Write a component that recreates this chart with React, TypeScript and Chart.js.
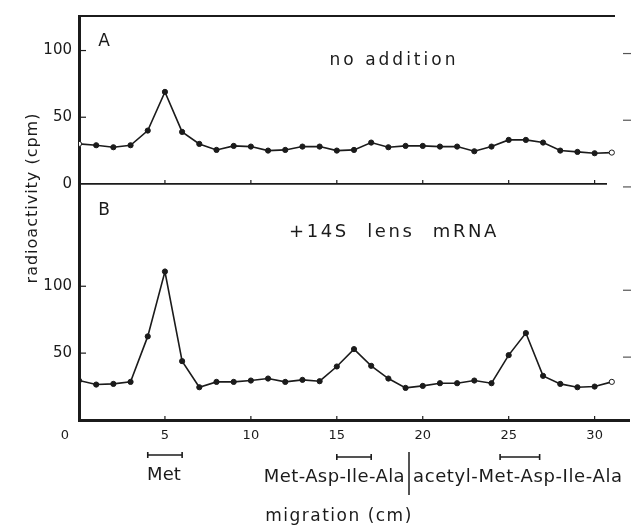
import React, { useEffect, useRef } from 'react';
import { Chart, registerables } from 'chart.js';

Chart.register(...registerables);

// ---- data ----
const migration = [0, 1, 2, 3, 4, 5, 6, 7, 8, 9, 10, 11, 12, 13, 14, 15, 16, 17, 18, 19, 20, 21, 22, 23, 24, 25, 26, 27, 28, 29, 30, 31];
const noAddition = [30, 29, 27.5, 29, 40, 69, 39, 30, 25.5, 28.5, 28, 25, 25.5, 28, 28, 25, 25.5, 31, 27.5, 28.5, 28.5, 28, 28, 24.5, 28, 33, 33, 31, 25, 24, 23, 23.5];
const lensMRNA = [29.5, 26.5, 27, 28.5, 62.5, 111, 44, 24.5, 28.5, 28.5, 29.5, 31, 28.5, 30, 29, 40, 53, 40.5, 31, 24, 25.5, 27.5, 27.5, 29.5, 27.5, 48.5, 65, 33, 27, 24.5, 25, 28.5];

const xTickValues = [0, 5, 10, 15, 20, 25, 30];
const yTicksA = [0, 50, 100];
const yTicksB = [50, 100];
const panelLetters = ['A', 'B'];
const panelTitles = ['no addition', '+14S lens mRNA'];
const markerNames = ['Met', 'Met-Asp-Ile-Ala', 'acetyl-Met-Asp-Ile-Ala'];
const markerRanges = [[4, 6], [15, 17], [24.5, 26.8]];
const markerSeparator = 19.2;
const yTitle = 'radioactivity (cpm)';
const xTitle = 'migration (cm)';

const INK = '#1b1b1b';
const FONT = '"DejaVu Sans", sans-serif';

function drawText(ctx: CanvasRenderingContext2D, text: string, x: number, y: number, size: number, align: CanvasTextAlign, spacing = 0, wordSpacing = 0, baseline: CanvasTextBaseline = 'middle') {
  ctx.font = `${size}px ${FONT}`;
  (ctx as any).letterSpacing = `${spacing}px`;
  (ctx as any).wordSpacing = `${wordSpacing}px`;
  ctx.textAlign = align;
  ctx.textBaseline = baseline;
  ctx.fillText(text, x, y);
  (ctx as any).letterSpacing = '0px';
  (ctx as any).wordSpacing = '0px';
}

function seg(ctx: CanvasRenderingContext2D, x1: number, y1: number, x2: number, y2: number) {
  ctx.beginPath();
  ctx.moveTo(x1, y1);
  ctx.lineTo(x2, y2);
  ctx.stroke();
}

const decorPlugin = {
  id: 'decor',
  afterDraw(chart: any) {
    const { ctx, chartArea, scales } = chart;
    const xs = scales.x;
    const yA = scales.yA;
    const yB = scales.yB;
    ctx.save();
    ctx.strokeStyle = INK;
    ctx.fillStyle = INK;

    // panel A frame lines
    ctx.lineWidth = 2;
    seg(ctx, chartArea.left, yA.top, chartArea.right - 14, yA.top);
    ctx.lineWidth = 1.8;
    seg(ctx, chartArea.left, yA.bottom, chartArea.right - 22, yA.bottom);

    // inward tick marks on x axes (both panels)
    ctx.lineWidth = 1.2;
    for (const v of xTickValues) {
      if (v === 0) continue;
      const px = xs.getPixelForValue(v);
      seg(ctx, px, yA.bottom, px, yA.bottom - 4);
      seg(ctx, px, yB.bottom, px, yB.bottom - 4);
    }
    // inward tick marks on left y axes and right edge
    for (const v of [50, 100]) {
      const pa = yA.getPixelForValue(v);
      const pb = yB.getPixelForValue(v);
      seg(ctx, chartArea.left, pa, chartArea.left + 7, pa);
      seg(ctx, chartArea.left, pb, chartArea.left + 7, pb);
    }
    ctx.strokeStyle = '#555';
    for (const v of yTicksA) {
      const p = yA.getPixelForValue(v) + 3;
      seg(ctx, chartArea.right - 6, p, chartArea.right + 2, p);
    }
    for (const v of yTicksB) {
      const p = yB.getPixelForValue(v) + 4;
      seg(ctx, chartArea.right - 6, p, chartArea.right + 2, p);
    }
    ctx.strokeStyle = INK;

    // x tick labels
    for (const v of xTickValues) {
      const px = xs.getPixelForValue(v) + (v === 0 ? -14 : 0);
      drawText(ctx, String(v), px, yB.bottom + 16, 13, 'center');
    }

    // panel letters and titles
    drawText(ctx, panelLetters[0], chartArea.left + 25, yA.top + 26, 17, 'center');
    drawText(ctx, panelLetters[1], chartArea.left + 25, yA.bottom + 27, 17, 'center');
    drawText(ctx, panelTitles[0], 394, yA.top + 45, 17, 'center', 3);
    drawText(ctx, panelTitles[1], 394, yA.bottom + 48, 18, 'center', 2.6, 10);

    // axis titles
    ctx.save();
    ctx.translate(33, 198);
    ctx.rotate(-Math.PI / 2);
    drawText(ctx, yTitle, 0, 0, 16, 'center', 1);
    ctx.restore();
    drawText(ctx, xTitle, 339, 521, 17, 'center', 1.5, 0, 'alphabetic');

    // marker brackets
    ctx.lineWidth = 1.6;
    markerRanges.forEach(([a, b], i) => {
      const x1 = xs.getPixelForValue(a);
      const x2 = xs.getPixelForValue(b);
      const y = yB.bottom + (i === 0 ? 35 : 37);
      seg(ctx, x1, y, x2, y);
      seg(ctx, x1, y - 3, x1, y + 3);
      seg(ctx, x2, y - 3, x2, y + 3);
    });
    const sep = xs.getPixelForValue(markerSeparator);
    ctx.lineWidth = 1.5;
    seg(ctx, sep, yB.bottom + 32, sep, yB.bottom + 75);
    drawText(ctx, markerNames[0], xs.getPixelForValue((markerRanges[0][0] + markerRanges[0][1]) / 2) - 1, yB.bottom + 60, 18, 'center', 0, 0, 'alphabetic');
    drawText(ctx, markerNames[1], sep - 4, yB.bottom + 62, 18, 'right', 0.4, 0, 'alphabetic');
    drawText(ctx, markerNames[2], sep + 4, yB.bottom + 62, 18, 'left', 0.6, 0, 'alphabetic');

    ctx.restore();
  },
};

const pointFill = (ctx: any) => {
  const last = migration.length - 1;
  if (ctx.datasetIndex === 0 && (ctx.dataIndex === 0 || ctx.dataIndex === last)) return '#ffffff';
  if (ctx.datasetIndex === 1 && ctx.dataIndex === last) return '#ffffff';
  return INK;
};

const lineStyle = {
  borderColor: INK,
  borderWidth: 1.6,
  pointRadius: 2.6,
  pointBorderWidth: 1,
  pointBorderColor: INK,
  pointBackgroundColor: pointFill,
  tension: 0,
  fill: false,
};

export default function App() {
  const ref = useRef<HTMLCanvasElement>(null);
  useEffect(() => {
    if (!ref.current) return;
    const chart = new Chart(ref.current, {
      type: 'line',
      data: {
        datasets: [
          {
            label: panelTitles[0],
            data: migration.map((x, i) => ({ x, y: noAddition[i] })),
            yAxisID: 'yA',
            ...lineStyle,
          } as any,
          {
            label: panelTitles[1],
            data: migration.map((x, i) => ({ x, y: lensMRNA[i] })),
            yAxisID: 'yB',
            ...lineStyle,
          } as any,
        ],
      },
      options: {
        animation: false,
        responsive: false,
        maintainAspectRatio: false,
        layout: { padding: { top: 11, right: 2, left: 0, bottom: 0 } },
        plugins: { legend: { display: false }, tooltip: { enabled: false } },
        scales: {
          x: {
            type: 'linear',
            position: 'bottom',
            min: 0,
            max: 32,
            grid: { display: false, drawTicks: false },
            border: { display: true, width: 3, color: INK },
            ticks: { display: false, stepSize: 5, includeBounds: false },
            afterBuildTicks: (s: any) => { s.ticks = xTickValues.map((v) => ({ value: v })); },
            afterFit: (s: any) => { s.height = 107; },
          },
          yA: {
            type: 'linear',
            position: 'left',
            stack: 'panels',
            stackWeight: 170,
            weight: 2,
            min: 0,
            max: 125.9,
            grid: { display: false, drawTicks: false },
            border: { display: true, width: 3, color: INK },
            ticks: { padding: 7, color: INK, font: { family: FONT, size: 15 } },
            afterBuildTicks: (s: any) => { s.ticks = yTicksA.map((v) => ({ value: v })); },
            afterFit: (s: any) => { s.width = 79; },
          },
          yB: {
            type: 'linear',
            position: 'left',
            stack: 'panels',
            stackWeight: 239,
            weight: 1,
            min: 0,
            max: 176.5,
            grid: { display: false, drawTicks: false },
            border: { display: true, width: 3, color: INK },
            ticks: { padding: 7, color: INK, font: { family: FONT, size: 15 } },
            afterBuildTicks: (s: any) => { s.ticks = yTicksB.map((v) => ({ value: v })); },
            afterFit: (s: any) => { s.width = 79; },
          },
        },
      } as any,
      plugins: [decorPlugin],
    });
    return () => chart.destroy();
  }, []);

  return (
    <div style={{ position: 'absolute', left: 0, top: 0, width: 634, height: 527, background: '#ffffff' }}>
      <canvas ref={ref} width={634} height={527} style={{ display: 'block', width: 634, height: 527 }} />
    </div>
  );
}
